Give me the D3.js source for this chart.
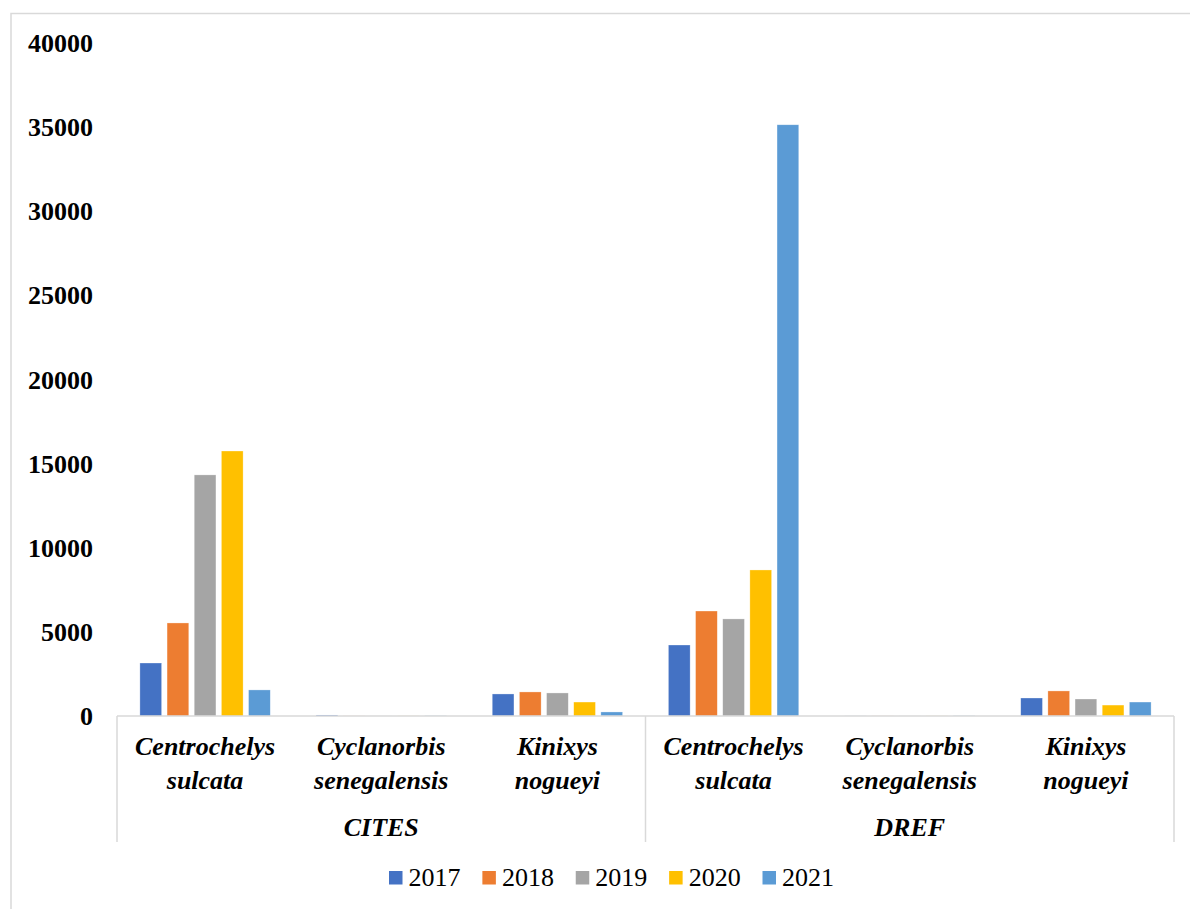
<!DOCTYPE html>
<html>
<head>
<meta charset="utf-8">
<script src="https://cdn.jsdelivr.net/npm/d3@7"></script>
<style>
  html, body { margin: 0; padding: 0; background: #fff; }
  svg { display: block; }
</style>
</head>
<body>
<svg id="chart" width="1190" height="909"></svg>
<script>
// ---- data ----
const groups = ["CITES", "DREF"];
const species = [["Centrochelys", "sulcata"], ["Cyclanorbis", "senegalensis"], ["Kinixys", "nogueyi"]];
const years = ["2017", "2018", "2019", "2020", "2021"];
const colors = ["#4472C4", "#ED7D31", "#A5A5A5", "#FFC000", "#5B9BD5"];
// values per category (CITES: 3 species, then DREF: 3 species), one array per year
const v2017 = [3150, 60, 1310, 4220, 5, 1070];
const v2018 = [5530, 5, 1430, 6240, 5, 1490];
const v2019 = [14330, 5, 1370, 5770, 5, 1010];
const v2020 = [15750, 5, 830, 8680, 5, 650];
const v2021 = [1550, 15, 240, 35140, 20, 830];
const series = [v2017, v2018, v2019, v2020, v2021];
const yTicks = [0, 5000, 10000, 15000, 20000, 25000, 30000, 35000, 40000];

// ---- layout ----
const svg = d3.select("#chart");
const plotLeft = 117, plotRight = 1174, plotTop = 43, base = 716;
const FONT = "'Liberation Serif', 'Times New Roman', serif";

// outer frame
svg.append("path").attr("d", `M11,909 V13.5 H1190`).attr("fill", "none")
  .attr("stroke", "#d9d9d9").attr("stroke-width", 1.5);

const cats = [];
groups.forEach((g, gi) => species.forEach((s, si) => cats.push({g, gi, s, si, key: g + "|" + s.join(" ")})));

const x0 = d3.scaleBand().domain(cats.map(c => c.key)).range([plotLeft, plotRight]).paddingInner(0).paddingOuter(0);
const cw = x0.bandwidth();
const x1 = d3.scaleBand().domain(years).range([cw * 0.13, cw * 0.87]).paddingInner(0.2);
const y = d3.scaleLinear().domain([0, 40000]).range([base, plotTop]);

// y axis labels
const yAxis = d3.axisLeft(y).tickValues(yTicks).tickSize(0).tickPadding(0).tickFormat(d3.format("d"));
const ya = svg.append("g").attr("transform", `translate(93,0)`).call(yAxis);
ya.select(".domain").remove();
ya.selectAll("text").attr("font-size", 26).attr("font-weight", "bold")
  .style("font-family", FONT).attr("fill", "#000").attr("dy", "0.33em");

// bars
cats.forEach((c, ci) => {
  const g = svg.append("g").attr("transform", `translate(${x0(c.key)},0)`);
  g.selectAll("rect").data(years).join("rect")
    .attr("x", d => x1(d))
    .attr("width", x1.bandwidth())
    .attr("y", (d, i) => y(series[i][ci]))
    .attr("height", (d, i) => base - y(series[i][ci]))
    .attr("fill", (d, i) => colors[i])
    .attr("stroke", "#fff").attr("stroke-width", 0.6).attr("stroke-opacity", 0.5);
});

// baseline
svg.append("line").attr("x1", plotLeft).attr("x2", plotRight).attr("y1", base).attr("y2", base)
  .attr("stroke", "#d9d9d9").attr("stroke-width", 1.5);

// group separators
[0, 3, 6].forEach(i => {
  const xx = i < 6 ? x0(cats[i].key) : plotRight;
  svg.append("line").attr("x1", xx).attr("x2", xx).attr("y1", base).attr("y2", 842)
    .attr("stroke", "#d9d9d9").attr("stroke-width", 1.5);
});

// species labels
cats.forEach(c => {
  const cx = x0(c.key) + cw / 2;
  const t = svg.append("text").attr("text-anchor", "middle").attr("font-size", 26)
    .style("font-family", FONT).attr("font-weight", "bold").attr("font-style", "italic").attr("fill", "#000");
  t.append("tspan").attr("x", cx).attr("y", 755).text(c.s[0]);
  t.append("tspan").attr("x", cx).attr("y", 789).text(c.s[1]);
});

// group labels
groups.forEach((g, gi) => {
  const cx = (x0(cats[gi * 3].key) + (gi === 1 ? plotRight : x0(cats[3].key))) / 2;
  svg.append("text").attr("x", cx).attr("y", 836).attr("text-anchor", "middle").style("font-family", FONT)
    .attr("font-size", 26).attr("font-weight", "bold").attr("font-style", "italic").attr("fill", "#000").text(g);
});

// legend
const lx = d3.scalePoint().domain(years).range([389, 762.5]);
const lg = svg.append("g");
years.forEach((yr, i) => {
  lg.append("rect").attr("x", lx(yr)).attr("y", 871).attr("width", 13.5).attr("height", 13.5).attr("fill", colors[i]);
  lg.append("text").attr("x", lx(yr) + 19.5).attr("y", 886).style("font-family", FONT)
    .attr("font-size", 26).attr("fill", "#000").text(yr);
});
</script>
</body>
</html>
